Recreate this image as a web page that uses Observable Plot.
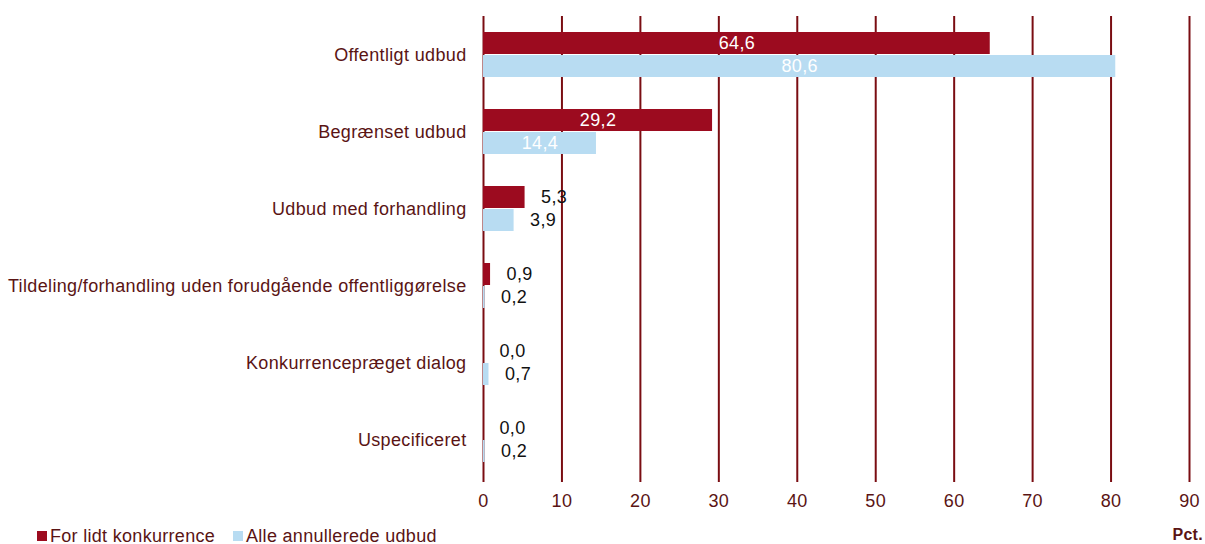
<!DOCTYPE html>
<html>
<head>
<meta charset="utf-8">
<script src="https://cdn.jsdelivr.net/npm/d3@7"></script>
<script src="https://cdn.jsdelivr.net/npm/@observablehq/plot@0.6"></script>
<style>
  html, body { margin: 0; padding: 0; background: #fff; }
  body { width: 1205px; height: 544px; overflow: hidden; font-family: "Liberation Sans", Arial, sans-serif; }
  svg text { letter-spacing: 0.35px; }
  #legend { position: relative; height: 24px; font-size: 18px; line-height: 16px; letter-spacing: 0.3px; color: #5a1414; }
  .item { position: absolute; top: 8px; display: flex; align-items: center; }
  .sw { width: 10px; height: 10px; margin-right: 3px; }
  #pct { position: absolute; right: 2px; top: 7px; font-weight: bold; font-size: 16px; line-height: 16px; color: #5a1414; }
</style>
</head>
<body>
<div id="chart"></div>
<div id="legend"></div>
<script>
const categories = [
  "Offentligt udbud",
  "Begrænset udbud",
  "Udbud med forhandling",
  "Tildeling/forhandling uden forudgående offentliggørelse",
  "Konkurrencepræget dialog",
  "Uspecificeret"
];
const seriesNames = ["For lidt konkurrence", "Alle annullerede udbud"];
const forLidtKonkurrence = [64.6, 29.2, 5.3, 0.9, 0.0, 0.0];
const alleAnnullerede = [80.6, 14.4, 3.9, 0.2, 0.7, 0.2];
const xTicks = [0, 10, 20, 30, 40, 50, 60, 70, 80, 90];
const colors = ["#9c0b1f", "#b8dcf2"];

const data = [];
categories.forEach((c, i) => {
  data.push({cat: c, series: seriesNames[0], value: forLidtKonkurrence[i]});
  data.push({cat: c, series: seriesNames[1], value: alleAnnullerede[i]});
});
const fmt = v => d3.format(".1f")(v).replace(".", ",");
const grid = "#7a0d12";
const textCol = "#5a1414";

const chart = Plot.plot({
  width: 1205,
  height: 520,
  marginTop: 16,
  marginBottom: 42,
  marginLeft: 483,
  marginRight: 16,
  style: {fontFamily: "Liberation Sans, Arial, sans-serif", fontSize: "18px", background: "#fff"},
  x: {domain: [0, 90], axis: null},
  fy: {domain: categories, padding: 0, label: null},
  y: {domain: seriesNames, paddingInner: 0.05, paddingOuter: 0.69, axis: null},
  color: {domain: seriesNames, range: colors},
  marks: [
    Plot.ruleX(xTicks, {stroke: grid, strokeWidth: 2}),
    Plot.barX(data, {fy: "cat", y: "series", x: "value", fill: "series"}),
    Plot.text(data.filter(d => d.value >= 10), {
      fy: "cat", y: "series", x: d => d.value / 2, text: d => fmt(d.value),
      fill: "white", fontSize: 18
    }),
    Plot.text(data.filter(d => d.value < 10), {
      fy: "cat", y: "series", x: "value", text: d => fmt(d.value),
      fill: "#111", fontSize: 18, textAnchor: "start", dx: 16
    }),
    Plot.axisFy({anchor: "left", tickSize: 0, tickPadding: 17, label: null, fill: textCol, fontSize: 18}),
    Plot.axisX(xTicks, {anchor: "bottom", facetAnchor: "bottom", tickSize: 4, tickPadding: 12, stroke: grid, strokeWidth: 2, fill: textCol, label: null, tickFormat: d => d, fontSize: 18})
  ]
});
document.getElementById("chart").appendChild(chart);

const legend = document.getElementById("legend");
const lefts = [37, 233];
seriesNames.forEach((s, i) => {
  const it = document.createElement("div");
  it.className = "item";
  it.style.left = lefts[i] + "px";
  it.innerHTML = `<span class="sw" style="background:${colors[i]}"></span><span>${s}</span>`;
  legend.appendChild(it);
});
const p = document.createElement("div");
p.id = "pct";
p.textContent = "Pct.";
legend.appendChild(p);
</script>
</body>
</html>
